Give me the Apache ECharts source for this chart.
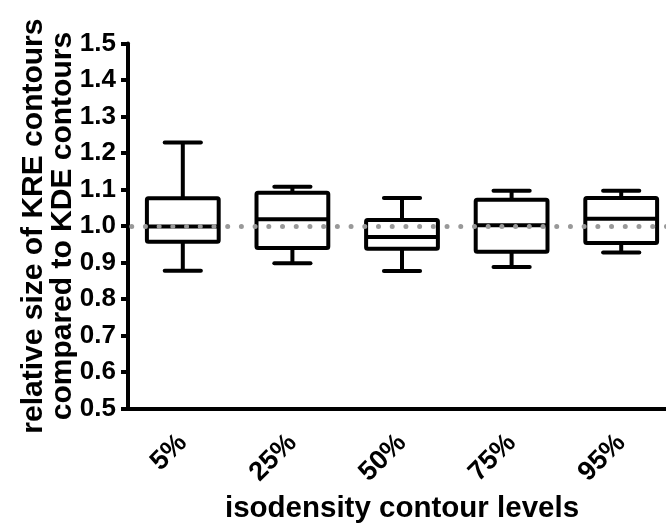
<!DOCTYPE html>
<html>
<head>
<meta charset="utf-8">
<script src="https://cdn.jsdelivr.net/npm/echarts@6/dist/echarts.min.js"></script>
<style>html,body{margin:0;padding:0;background:#fff}#c{width:666px;height:525px}</style>
</head>
<body>
<div id="c"></div>
<script>
const categories = ['5%', '25%', '50%', '75%', '95%'];
const whiskerLow = [0.878, 0.898, 0.877, 0.888, 0.928];
const q1 = [0.957, 0.940, 0.938, 0.930, 0.954];
const median = [0.999, 1.019, 0.970, 1.002, 1.020];
const q3 = [1.076, 1.091, 1.017, 1.072, 1.077];
const whiskerHigh = [1.229, 1.108, 1.077, 1.097, 1.097];
const yTicks = [0.5, 1.5, 0.1];
const referenceLevel = 1.0;

const FONT = "'Liberation Sans', Arial, sans-serif";
const data = categories.map((c, i) => [i, whiskerLow[i], q1[i], median[i], q3[i], whiskerHigh[i]]);

const chart = echarts.init(document.getElementById('c'), null, {renderer: 'canvas'});

function renderItem(params, api) {
  const x = api.value(0);
  const band = api.size([1, 0])[0];
  const boxW = band * 0.655;
  const capW = band * 0.33;
  const pLow = api.coord([x, api.value(1)]);
  const pQ1 = api.coord([x, api.value(2)]);
  const pMed = api.coord([x, api.value(3)]);
  const pQ3 = api.coord([x, api.value(4)]);
  const pHigh = api.coord([x, api.value(5)]);
  const cx = pMed[0];
  const st = {stroke: '#000', lineWidth: 4, fill: null};
  const capSt = {stroke: '#000', lineWidth: 4, lineCap: 'round'};
  return {
    type: 'group',
    children: [
      {type: 'line', shape: {x1: cx, y1: pQ3[1], x2: cx, y2: pHigh[1]}, style: st},
      {type: 'line', shape: {x1: cx, y1: pQ1[1], x2: cx, y2: pLow[1]}, style: st},
      {type: 'line', shape: {x1: cx - capW / 2, y1: pHigh[1], x2: cx + capW / 2, y2: pHigh[1]}, style: capSt},
      {type: 'line', shape: {x1: cx - capW / 2, y1: pLow[1], x2: cx + capW / 2, y2: pLow[1]}, style: capSt},
      {type: 'rect', shape: {x: cx - boxW / 2, y: pQ3[1], width: boxW, height: pQ1[1] - pQ3[1], r: 1.5}, style: {stroke: '#000', lineWidth: 4, fill: '#fff'}},
      {type: 'line', shape: {x1: cx - boxW / 2, y1: pMed[1], x2: cx + boxW / 2, y2: pMed[1]}, style: st}
    ]
  };
}

chart.setOption({
  animation: false,
  backgroundColor: '#fff',
  grid: {left: 128, top: 43.5, width: 548, bottom: 116.3, containLabel: false, outerBoundsMode: 'none'},
  xAxis: {
    type: 'category',
    data: categories,
    name: 'isodensity contour levels',
    nameLocation: 'middle',
    nameGap: 85,
    nameMoveOverlap: false,
    nameTextStyle: {fontFamily: FONT, fontWeight: 'bold', fontSize: 29.5, color: '#000'},
    axisLine: {lineStyle: {color: '#000', width: 4}},
    axisTick: {alignWithLabel: true, length: 11, lineStyle: {color: '#000', width: 4}},
    axisLabel: {rotate: 45, margin: 30, fontFamily: FONT, fontWeight: 'bold', fontSize: 27, color: '#000'},
    splitLine: {show: false}
  },
  yAxis: {
    type: 'value',
    min: yTicks[0], max: yTicks[1], interval: yTicks[2],
    name: 'relative size of KRE contours\ncompared to KDE contours',
    nameLocation: 'middle',
    nameRotate: 90,
    nameGap: 51,
    nameMoveOverlap: false,
    nameTextStyle: {fontFamily: FONT, fontWeight: 'bold', fontSize: 30, color: '#000', lineHeight: 29},
    axisLine: {show: true, lineStyle: {color: '#000', width: 4}},
    axisTick: {show: true, length: 7, lineStyle: {color: '#000', width: 4}},
    axisLabel: {margin: 12, fontFamily: FONT, fontWeight: 'bold', fontSize: 26, color: '#000', formatter: v => v.toFixed(1)},
    splitLine: {show: false}
  },
  series: [{
    type: 'custom',
    renderItem: renderItem,
    encode: {x: 0, y: [1, 2, 3, 4, 5]},
    data: data,
    clip: false,
    markLine: {
      silent: true,
      symbol: 'none',
      label: {show: false},
      lineStyle: {color: '#999999', width: 5, type: [0.01, 13.7], cap: 'round', dashOffset: 10},
      data: [{yAxis: referenceLevel}]
    }
  }]
});
</script>
</body>
</html>
